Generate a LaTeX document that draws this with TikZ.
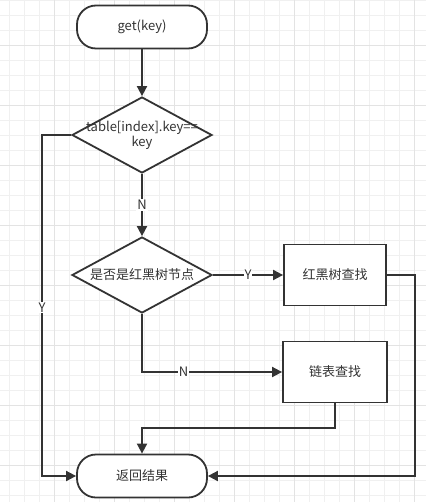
\documentclass[tikz,border=0pt]{standalone}
\usepackage{fontspec}
\setmainfont{Noto Sans CJK SC}
\usepackage{tikz}
\usetikzlibrary{arrows.meta, shapes.geometric}

\definecolor{ink}{HTML}{333333}
\definecolor{gridminor}{HTML}{F0F0F0}
\definecolor{gridmajor}{HTML}{E3E3E3}

\tikzset{
	terminal/.style={draw=ink, line width=1.8pt, fill=white, rounded corners=19pt, minimum width=130pt, minimum height=43pt, inner sep=0pt},
	decision/.style={draw=ink, line width=1.8pt, fill=white, diamond, minimum width=140pt, minimum height=76pt, inner sep=0pt},
	process/.style={draw=ink, line width=1.8pt, fill=white, rectangle, minimum width=102pt, minimum height=61pt, inner sep=0pt},
	flow/.style={draw=ink, line width=1.8pt, -{Triangle[length=10pt,width=10pt]}},
	lbl/.style={fill=white, text=ink, inner sep=1pt, font=\fontsize{13}{15}\selectfont}
}

\begin{document}
\begin{tikzpicture}[x=1pt, y=-1pt, font=\fontsize{13}{15}\selectfont, text=ink]
\useasboundingbox (0,0) rectangle (426,502);
\fill[white] (0,0) rectangle (426,502);
% grid
\foreach \gx in {9.3,24.3,...,426} { \draw[gridminor, line width=0.8pt] (\gx,0) -- (\gx,502); }
\foreach \gy in {0,15,...,502} { \draw[gridminor, line width=0.8pt] (0,\gy) -- (426,\gy); }
\foreach \gx in {54.3,114.3,...,426} { \draw[gridmajor, line width=0.8pt] (\gx,0) -- (\gx,502); }
\foreach \gy in {45,105,...,502} { \draw[gridmajor, line width=0.8pt] (0,\gy) -- (426,\gy); }

% nodes
\node[terminal] (get) at (142,27) {get(key)};
\node[decision, label={[align=center, inner sep=0pt]center:table[index].key==\\key}] (iskey) at (142,135) {};
\node[decision, label={[inner sep=0pt]center:是否是红黑树节点}] (isrb) at (142,275) {};
\node[process] (rbfind) at (335,275) {红黑树查找};
\node[process, minimum width=104pt] (listfind) at (335,372) {链表查找};
\node[terminal] (result) at (142,476) {返回结果};

\coordinate (hitturn) at (42,135);
\coordinate (rbturn) at (415,275);
\coordinate (listturn) at (335,428);

% connectors
\draw[flow] (get) -- (iskey);
\draw[flow] (iskey) -- node[lbl] {N} (isrb);
\draw[flow] (iskey.west) -- (hitturn) |- node[lbl, pos=0.253] {Y} (result.west);
\draw[flow] (isrb.east) -- node[lbl] {Y} (rbfind.west);
\draw[flow] (isrb.south) |- node[lbl, pos=0.648] {N} (listfind.west);
\draw[flow] (listfind.south) -- (listturn) -| (result.north);
\draw[flow] (rbfind.east) -- (rbturn) |- (result.east);
\end{tikzpicture}
\end{document}
